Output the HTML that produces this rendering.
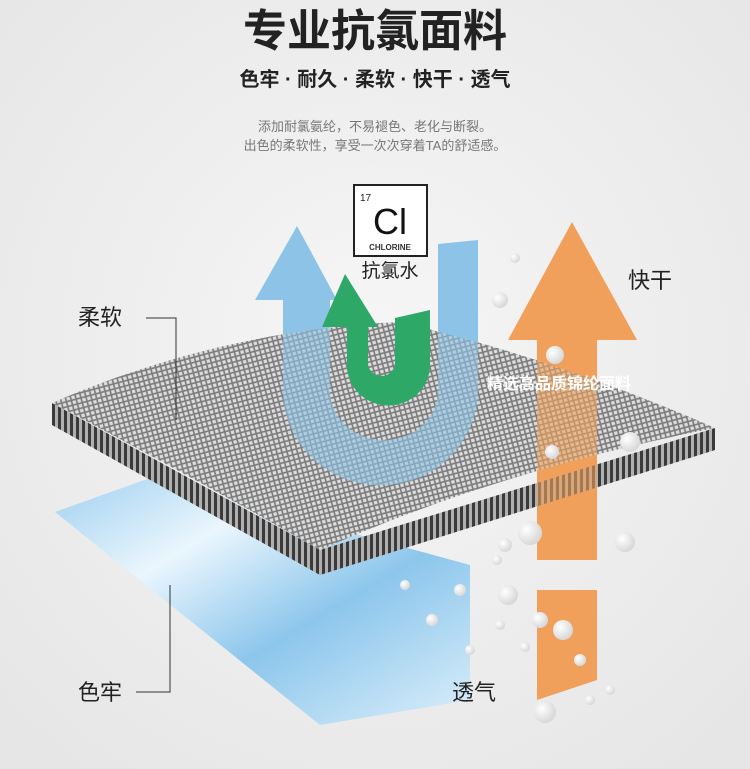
<!DOCTYPE html>
<html><head><meta charset="utf-8"><style>
html,body{margin:0;padding:0;background:#ededed;}
svg{display:block}
text{font-family:"Liberation Sans","Noto Sans CJK SC",sans-serif;}
</style></head><body>
<svg width="750" height="769" viewBox="0 0 750 769" xmlns="http://www.w3.org/2000/svg">
<defs>
<radialGradient id="bg" cx="50%" cy="45%" r="70%"><stop offset="0" stop-color="#f6f6f6"/><stop offset="1" stop-color="#e6e6e6"/></radialGradient>
<pattern id="mesh" width="5" height="5" patternUnits="userSpaceOnUse" patternTransform="rotate(-15)">
<rect width="5" height="5" fill="#7d7d7d"/><rect x="1.1" y="1.1" width="3.3" height="3.3" fill="#dedede"/></pattern>
<pattern id="side" width="6" height="40" patternUnits="userSpaceOnUse">
<rect width="6" height="40" fill="#3a3a3a"/><rect x="1" width="3" height="40" fill="#b0b0b0"/></pattern>
<linearGradient id="film" x1="0" y1="0" x2="1" y2="1"><stop offset="0" stop-color="#9fd0f0"/><stop offset="0.3" stop-color="#eaf6fd"/><stop offset="0.6" stop-color="#8cc6ec"/><stop offset="1" stop-color="#dceffa"/></linearGradient>
<radialGradient id="bub" cx="35%" cy="35%" r="65%"><stop offset="0" stop-color="#fff"/><stop offset="1" stop-color="#d8d8d8"/></radialGradient>
</defs>
<rect width="750" height="769" fill="url(#bg)"/>
<text x="375" y="46" text-anchor="middle" font-size="44" font-weight="bold" fill="#222">专业抗氯面料</text>
<text x="375" y="86" text-anchor="middle" font-size="20" font-weight="bold" fill="#222">色牢 · 耐久 · 柔软 · 快干 · 透气</text>
<text x="375" y="131" text-anchor="middle" font-size="13" fill="#777">添加耐氯氨纶，不易褪色、老化与断裂。</text>
<text x="375" y="150" text-anchor="middle" font-size="13" fill="#777">出色的柔软性，享受一次次穿着TA的舒适感。</text>
<rect x="354" y="185" width="73" height="71" fill="#fff" stroke="#222" stroke-width="2"/>
<text x="360" y="201" font-size="10" fill="#222">17</text>
<text x="390" y="234" text-anchor="middle" font-size="36" fill="#111">Cl</text>
<text x="390" y="250" text-anchor="middle" font-size="8" font-weight="bold" fill="#333">CHLORINE</text>
<text x="390" y="277" text-anchor="middle" font-size="19" fill="#222">抗氯水</text>
<polygon points="55,512 150,478 470,565 470,700 320,725" fill="url(#film)"/>
<g fill="#f0a05a">
<polygon points="572,222 637,340 597,340 597,560 537,560 537,340 508,340"/>
<polygon points="537,590 597,590 597,680 537,700"/>
</g>
<path d="M283,300 L283,390 A97,95 0 0 0 478,390 L478,240 L438,244 L438,390 A54,50 0 0 1 330,390 L330,300 Z" fill="#8cc3e6"/>
<polygon points="297,226 337,300 255,300" fill="#8cc3e6"/>
<polygon points="52,403 52,425 320,575 715,450 715,428 320,550" fill="url(#side)"/>
<path d="M52,403 Q220,330 400,322 Q560,360 715,428 Q500,470 320,550 Q180,470 52,403 Z" fill="url(#mesh)"/>
<path d="M283,320 L283,390 A97,95 0 0 0 478,390 L478,330 L438,330 L438,390 A54,50 0 0 1 330,390 L330,320 Z" fill="#8cc3e6" opacity="0.6"/>
<rect x="537" y="340" width="60" height="200" fill="#f0a05a" opacity="0.6"/>
<path d="M347,325 L347,365 A41,40 0 0 0 430,365 L430,310 L395,318 L395,365 A14,15 0 0 1 368,365 L368,325 Z" fill="#2ea866"/>
<polygon points="345,274 378,327 322,327" fill="#2ea866"/>
<text x="487" y="389" font-size="16" font-weight="bold" fill="#fff">精选高品质锦纶面料</text>
<g fill="url(#bub)">
<circle cx="500" cy="300" r="8"/><circle cx="515" cy="258" r="5"/><circle cx="555" cy="355" r="9"/><circle cx="630" cy="442" r="10"/><circle cx="552" cy="452" r="7"/>
<circle cx="530" cy="533" r="12"/><circle cx="505" cy="545" r="7"/><circle cx="625" cy="542" r="10"/><circle cx="497" cy="560" r="5"/><circle cx="508" cy="595" r="10"/>
<circle cx="460" cy="590" r="6"/><circle cx="432" cy="620" r="6"/><circle cx="540" cy="620" r="8"/><circle cx="500" cy="625" r="5"/><circle cx="563" cy="630" r="10"/>
<circle cx="525" cy="647" r="5"/><circle cx="580" cy="660" r="6"/><circle cx="545" cy="712" r="11"/><circle cx="590" cy="700" r="5"/><circle cx="610" cy="690" r="5"/><circle cx="470" cy="650" r="5"/><circle cx="405" cy="585" r="5"/>
</g>
<text x="78" y="325" font-size="22" fill="#222">柔软</text>
<polyline points="146,318 176,318 176,420" fill="none" stroke="#333" stroke-width="1"/>
<text x="78" y="700" font-size="22" fill="#222">色牢</text>
<polyline points="136,692 170,692 170,585" fill="none" stroke="#333" stroke-width="1"/>
<text x="628" y="288" font-size="22" fill="#222">快干</text>
<text x="452" y="700" font-size="22" fill="#222">透气</text>
</svg>
</body></html>
